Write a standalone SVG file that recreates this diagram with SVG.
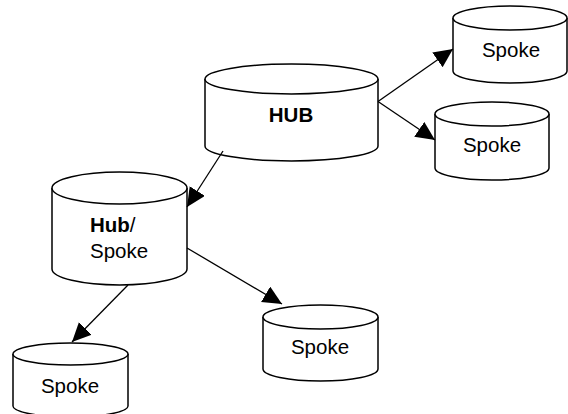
<svg xmlns="http://www.w3.org/2000/svg" width="568" height="414" viewBox="0 0 568 414">
<style>
.cyl{fill:#fff;stroke:#000;stroke-width:1.5}
.t{font-family:"Liberation Sans",Arial,sans-serif;font-size:20.5px;fill:#000}
.b{font-weight:bold}
.c{text-anchor:middle}
.conn line{stroke:#000;stroke-width:1.3;marker-end:url(#ah)}
</style>
<defs>
<marker id="ah" markerUnits="userSpaceOnUse" markerWidth="20" markerHeight="19" refX="19" refY="9" orient="auto">
<path d="M0,0 L19,9 L0,18 Z" fill="#000"/>
</marker>
</defs>
<rect width="568" height="414" fill="#fff"/>
<g id="hub">
<path class="cyl" d="M205,79 V146 A86.5,15 0 0 0 378,146 V79"/>
<ellipse class="cyl" cx="291.5" cy="79" rx="86.5" ry="15"/>
<text class="t b c" x="291" y="122">HUB</text>
</g>
<g id="spoke1">
<path class="cyl" d="M453,18 V71 A57,12 0 0 0 567,71 V18"/>
<ellipse class="cyl" cx="510" cy="18" rx="57" ry="12"/>
<text class="t c" x="511" y="57">Spoke</text>
</g>
<g id="spoke2">
<path class="cyl" d="M435,114 V168 A57,12 0 0 0 549,168 V114"/>
<ellipse class="cyl" cx="492" cy="114" rx="57" ry="12"/>
<text class="t c" x="492" y="152">Spoke</text>
</g>
<g id="hubspoke">
<path class="cyl" d="M52,188 V269 A67.5,16 0 0 0 187,269 V188"/>
<ellipse class="cyl" cx="119.5" cy="188" rx="67.5" ry="16"/>
<text class="t" x="90" y="232"><tspan class="b">Hub</tspan>/</text>
<text class="t" x="90" y="258">Spoke</text>
</g>
<g id="spoke3">
<path class="cyl" d="M263,317 V369 A57.5,12 0 0 0 378,369 V317"/>
<ellipse class="cyl" cx="320.5" cy="317" rx="57.5" ry="12"/>
<text class="t c" x="320" y="354">Spoke</text>
</g>
<g id="spoke4">
<path class="cyl" d="M13,354 V406 A57.5,11 0 0 0 128,406 V354"/>
<ellipse class="cyl" cx="70.5" cy="354" rx="57.5" ry="11"/>
<text class="t c" x="70" y="393">Spoke</text>
</g>
<g class="conn" id="connectors">
<line x1="378" y1="101.5" x2="453" y2="49"/>
<line x1="378" y1="101.5" x2="435" y2="140"/>
<line x1="223" y1="151" x2="187" y2="207"/>
<line x1="187" y1="248" x2="282" y2="304"/>
<line x1="128" y1="285" x2="72" y2="342"/>
</g>
</svg>
